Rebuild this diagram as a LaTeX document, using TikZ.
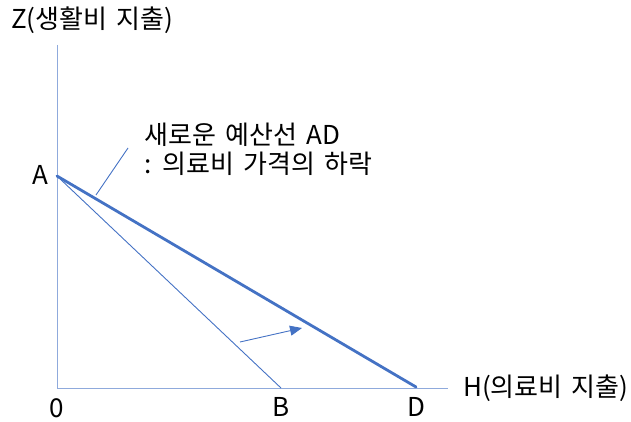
\documentclass[tikz,border=0pt]{standalone}
\usepackage{fontspec}
\setmainfont[WordSpace=1.6]{Noto Sans CJK KR}
\usepackage{tikz}
\usetikzlibrary{arrows.meta,positioning,calc}

\definecolor{lineblue}{HTML}{4472C4}
\definecolor{axisblue}{HTML}{8FAADC}

\begin{document}
\begin{tikzpicture}[
  x=1pt, y=1pt,
  font=\fontsize{26}{29}\selectfont,
  axis/.style={draw=axisblue, line width=1pt},
  budget/.style={draw=lineblue, line width=0.9pt},
  newbudget/.style={draw=lineblue, line width=2.8pt},
  lbl/.style={inner sep=1pt},
  >={Triangle[length=12pt, width=10pt]},
]
\useasboundingbox (0,0) rectangle (631,421);
% axes
\coordinate (O) at (57,33);
\coordinate (ytop) at (57,376);
\coordinate (xend) at (448,33);
\draw[axis] (ytop) -- (O) -- (xend);
\node[lbl, anchor=west] (zlab) at (10,401) {Z(생활비 지출)};
\node[lbl, anchor=west] (hlab) at (462,33) {H(의료비 지출)};
% budget lines
\coordinate (A) at (57,245);
\coordinate (B) at (281,33);
\coordinate (D) at (416,34);
\draw[budget] (A) -- (B);
\draw[newbudget, line cap=round] (A) -- (D);
\node[lbl] (alab) at (40,246) {A};
\node[lbl] (olab) at (57,13) {0};
\node[lbl] (blab) at (281,14) {B};
\node[lbl] (dlab) at (416,14) {D};
% shift of the line
\coordinate (s1) at (240,79);
\coordinate (s2) at (302,93);
\draw[budget, ->, color=lineblue] (s1) -- (s2);
% note
\node[lbl, anchor=west, align=left] (note) at (143,272) {새로운 예산선 AD\\: 의료비 가격의 하락};
\coordinate (p1) at (128,273);
\coordinate (p2) at (96,226);
\draw[budget] (p1) -- (p2);
\end{tikzpicture}
\end{document}
